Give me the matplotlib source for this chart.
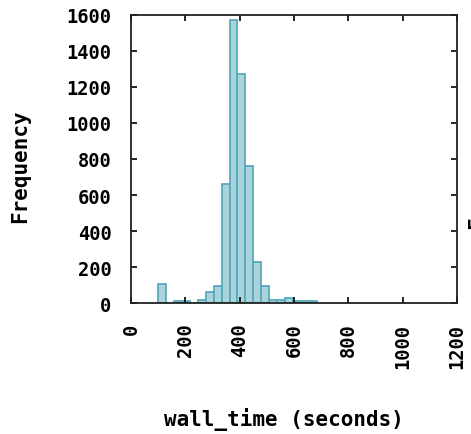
import numpy as np
import matplotlib
matplotlib.use("Agg")
import matplotlib.pyplot as plt

# histogram of wall_time, 20 bins of ~29.2 s starting at 100 s
bin_edges = [100, 129.2, 158.4, 187.6, 216.8, 246, 275.2, 304.4, 333.6, 362.8,
             392, 421.2, 450.4, 479.6, 508.8, 538, 567.2, 596.4, 625.6, 654.8, 684]
counts = [107, 0, 10, 10, 0, 20, 64, 98, 661, 1572,
          1271, 763, 227, 96, 19, 19, 30, 12, 12, 12]

x_ticks = [0, 200, 400, 600, 800, 1000, 1200]
y_ticks = [0, 200, 400, 600, 800, 1000, 1200, 1400, 1600]

plt.rcParams['font.family'] = ['DejaVu Sans Mono']
plt.rcParams['font.weight'] = 'bold'

fig = plt.figure(figsize=(4.71, 4.35), dpi=100)
ax = fig.add_axes([131 / 471, 1 - 304.3 / 435, 326 / 471, 288.6 / 435])

edges = np.array(bin_edges)
ax.bar(edges[:-1], counts, width=np.diff(edges), align='edge',
       color='#a9d4dc', edgecolor='#5aa9bd', linewidth=1.3)

ax.set_xlim(0, 1200)
ax.set_ylim(0, 1600)
ax.set_xticks(x_ticks)
ax.set_yticks(y_ticks)
ax.set_xticklabels([str(t) for t in x_ticks], rotation=90, fontsize=13.5, fontweight='bold')
ax.set_yticklabels([str(t) for t in y_ticks], fontsize=13.5, fontweight='bold')
ax.tick_params(direction='in', length=4, width=1.2, top=True, right=True, pad=14, colors='black')
for s in ax.spines.values():
    s.set_linewidth(1.3)
    s.set_color('#222222')

ax.set_xlabel('wall_time (seconds)', fontsize=15, fontweight='bold')
ax.set_ylabel('Frequency', fontsize=15, fontweight='bold')
ax.xaxis.set_label_coords(0.468, -0.36)
ax.yaxis.set_label_coords(-0.31, 0.48)

# clipped label of the neighbouring panel at the right edge
fig.text(467 / 471, 1 - 229 / 435, 'Frequency', rotation=90, fontsize=15,
         fontweight='bold', ha='left', va='bottom')

fig.savefig('out.png', dpi=100)
